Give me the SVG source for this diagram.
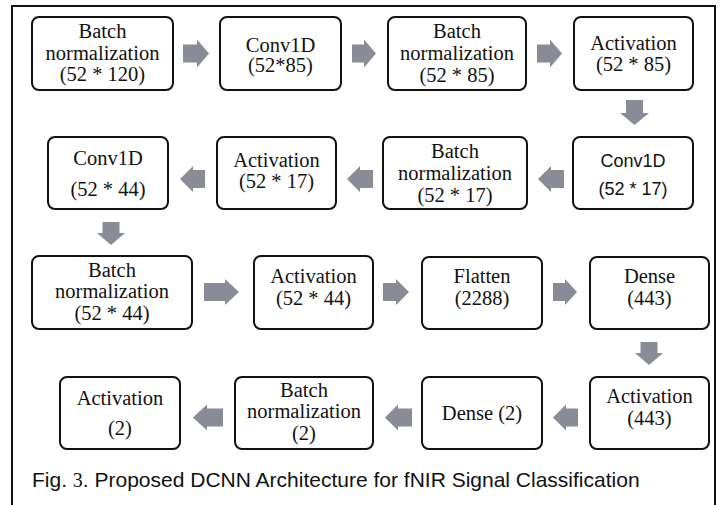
<svg xmlns="http://www.w3.org/2000/svg" width="721" height="505" viewBox="0 0 721 505">
<style>
.box{fill:#fff;stroke:#111;stroke-width:2}
.t{font-family:'Liberation Serif','Tinos','Times New Roman','DejaVu Serif','Noto Serif',serif;font-size:20.5px;fill:#111;text-anchor:middle}
.s{font-family:'Liberation Sans',Arial,sans-serif;font-size:18px;fill:#111;text-anchor:middle}
.arr{fill:#898c96}
.cap{font-family:'Liberation Sans',Arial,sans-serif;font-size:21px;fill:#111}
</style>
<rect x="0" y="0" width="721" height="505" fill="#fff"/>
<rect x="12" y="6" width="703" height="510" fill="none" stroke="#111" stroke-width="2"/>
<g id="connectors">
<path class="arr" d="M183 44.5H197V39.5L209 53.5L197 67.5V62.5H183Z"/>
<path class="arr" d="M352 44.5H364V39.5L376 53.5L364 67.5V62.5H352Z"/>
<path class="arr" d="M537 44.5H550V39.5L562 53.5L550 67.5V62.5H537Z"/>
<path class="arr" d="M626 100H643V113H649L634.5 125L620 113H626Z"/>
<path class="arr" d="M564 170H551V166L538 179L551 192V188H564Z"/>
<path class="arr" d="M373 170H360V166L347 179L360 192V188H373Z"/>
<path class="arr" d="M205 170H193V166L180 179L193 192V188H205Z"/>
<path class="arr" d="M102.5 222H119.5V233H125L111 245L97 233H102.5Z"/>
<path class="arr" d="M204 283H225V279L239 292L225 305V301H204Z"/>
<path class="arr" d="M383 283H396V279L409 292L396 305V301H383Z"/>
<path class="arr" d="M553 283H565V279L577 292L565 305V301H553Z"/>
<path class="arr" d="M640.5 342H657.5V353H663L649 365L635 353H640.5Z"/>
<path class="arr" d="M578 408.5H566V404.5L553 417.5L566 430.5V426.5H578Z"/>
<path class="arr" d="M412 408.5H398V404.5L385 417.5L398 430.5V426.5H412Z"/>
<path class="arr" d="M223 408.5H207V404.5L193 417.5L207 430.5V426.5H223Z"/>
</g>
<g id="n1"><rect class="box" x="32" y="17" width="141" height="73" rx="7"/><text class="t" x="102.5" y="38">Batch</text><text class="t" x="102.5" y="60">normalization</text><text class="t" x="102.5" y="81">(52 * 120)</text></g>
<g id="n2"><rect class="box" x="220" y="17" width="121" height="73" rx="7"/><text class="t" x="280.5" y="52">Conv1D</text><text class="t" x="280.5" y="72">(52*85)</text></g>
<g id="n3"><rect class="box" x="388" y="17" width="138" height="73" rx="7"/><text class="t" x="457" y="38">Batch</text><text class="t" x="457" y="60">normalization</text><text class="t" x="457" y="82">(52 * 85)</text></g>
<g id="n4"><rect class="box" x="574" y="17" width="119" height="73" rx="7"/><text class="t" x="633.5" y="50">Activation</text><text class="t" x="633.5" y="71">(52 * 85)</text></g>
<g id="n5"><rect class="box" x="573" y="137" width="120" height="72" rx="7"/><text class="s" x="633" y="167">Conv1D</text><text class="s" x="633" y="195">(52 * 17)</text></g>
<g id="n6"><rect class="box" x="383" y="137" width="144" height="72" rx="7"/><text class="t" x="455" y="158">Batch</text><text class="t" x="455" y="180">normalization</text><text class="t" x="455" y="202">(52 * 17)</text></g>
<g id="n7"><rect class="box" x="217" y="137" width="119" height="72" rx="7"/><text class="t" x="276.5" y="167">Activation</text><text class="t" x="276.5" y="188">(52 * 17)</text></g>
<g id="n8"><rect class="box" x="48" y="137" width="120" height="72" rx="7"/><text class="t" x="108" y="165">Conv1D</text><text class="t" x="108" y="196">(52 * 44)</text></g>
<g id="n9"><rect class="box" x="32" y="256" width="160" height="73" rx="7"/><text class="t" x="112" y="277">Batch</text><text class="t" x="112" y="298">normalization</text><text class="t" x="112" y="320">(52 * 44)</text></g>
<g id="n10"><rect class="box" x="254" y="256" width="119" height="73" rx="7"/><text class="t" x="313.5" y="283">Activation</text><text class="t" x="313.5" y="305">(52 * 44)</text></g>
<g id="n11"><rect class="box" x="422" y="257" width="120" height="72" rx="7"/><text class="t" x="482" y="283">Flatten</text><text class="t" x="482" y="305">(2288)</text></g>
<g id="n12"><rect class="box" x="590" y="257" width="119" height="72" rx="7"/><text class="t" x="649.5" y="283">Dense</text><text class="t" x="649.5" y="305">(443)</text></g>
<g id="n13"><rect class="box" x="590" y="377" width="119" height="72" rx="7"/><text class="t" x="649.5" y="403">Activation</text><text class="t" x="649.5" y="425">(443)</text></g>
<g id="n14"><rect class="box" x="422" y="377" width="120" height="72" rx="7"/><text class="t" x="482" y="420">Dense (2)</text></g>
<g id="n15"><rect class="box" x="235" y="377" width="138" height="72" rx="7"/><text class="t" x="304" y="397">Batch</text><text class="t" x="304" y="418">normalization</text><text class="t" x="304" y="440">(2)</text></g>
<g id="n16"><rect class="box" x="60" y="377" width="120" height="72" rx="7"/><text class="t" x="120" y="405">Activation</text><text class="t" x="120" y="435">(2)</text></g>
<text class="cap" x="32" y="487">Fig. <tspan font-family="'Liberation Serif',serif" font-size="20">3</tspan>. Proposed DCNN Architecture for fNIR Signal Classification</text>
</svg>
